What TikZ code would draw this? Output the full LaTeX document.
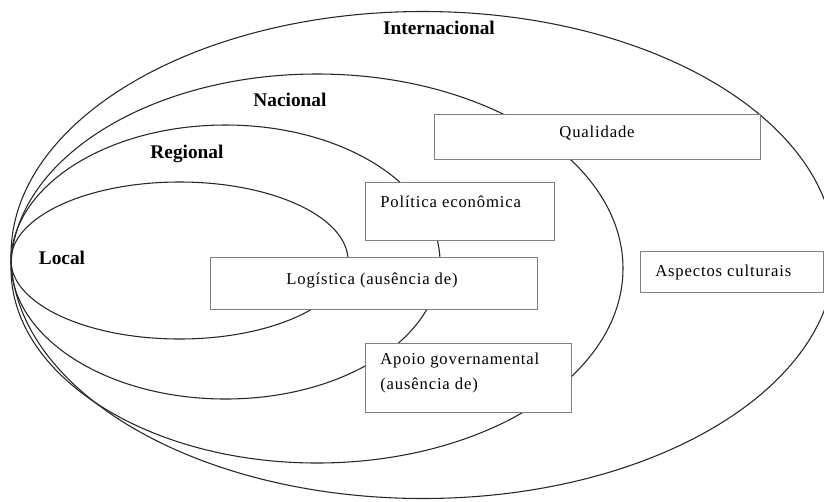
\documentclass[tikz,border=0pt]{standalone}
\usepackage{fontspec}
\setmainfont{Liberation Serif}
\newfontfamily\boxfont[LetterSpace=5]{Liberation Serif}
\begin{document}
\begin{tikzpicture}[x=0.75pt,y=-0.75pt,
  ring/.style={draw=black!85,line width=0.8pt},
  scopelabel/.style={font=\fontsize{14.5}{16}\selectfont\bfseries,inner sep=0pt},
  factorbox/.style={draw=black!50,fill=white,line width=0.75pt,inner sep=0pt},
  factortext/.style={font=\boxfont\fontsize{12.5}{18.75}\selectfont,inner sep=0pt,align=left}]
\clip (0,0) rectangle (824,501);
\fill[white] (0,0) rectangle (824,501);

% nested scopes, all touching on the left
\draw[ring] (423,255) ellipse [x radius=309pt, y radius=182.625pt];
\draw[ring] (317,268.5) ellipse [x radius=229.5pt, y radius=145.875pt];
\draw[ring] (225.5,262) ellipse [x radius=160.875pt, y radius=102.75pt];
\draw[ring] (179.5,260.5) ellipse [x radius=126.375pt, y radius=58.875pt];

% scope names
\node[scopelabel] (intl) at (439,28) {Internacional};
\node[scopelabel] (nac) at (290,100) {Nacional};
\node[scopelabel] (reg) at (187,154) {Regional};
\node[scopelabel] (loc) at (62,258) {Local};

% factor boxes
\node[factorbox,minimum width=244.5pt,minimum height=33.75pt] (qual) at (597,136.5) {};
\node[factorbox,minimum width=141.75pt,minimum height=43.5pt] (pol) at (459.5,211) {};
\node[factorbox,minimum width=245.25pt,minimum height=39pt] (log) at (373.5,283) {};
\node[factorbox,minimum width=154.5pt,minimum height=51.75pt] (apoio) at (468,377.5) {};
\node[factorbox,minimum width=137.25pt,minimum height=30.75pt] (asp) at (731.5,271.5) {};

% factor texts
\node[factortext] (qualt) at (597,133) {Qualidade};
\node[factortext,anchor=west] (polt) at (380,202) {Política econômica};
\node[factortext] (logt) at (372,280) {Logística (ausência de)};
\node[factortext,anchor=west] (apoiot) at (380,372.5) {Apoio governamental\\(ausência de)};
\node[factortext,anchor=west] (aspt) at (655,272) {Aspectos culturais};
\end{tikzpicture}
\end{document}
